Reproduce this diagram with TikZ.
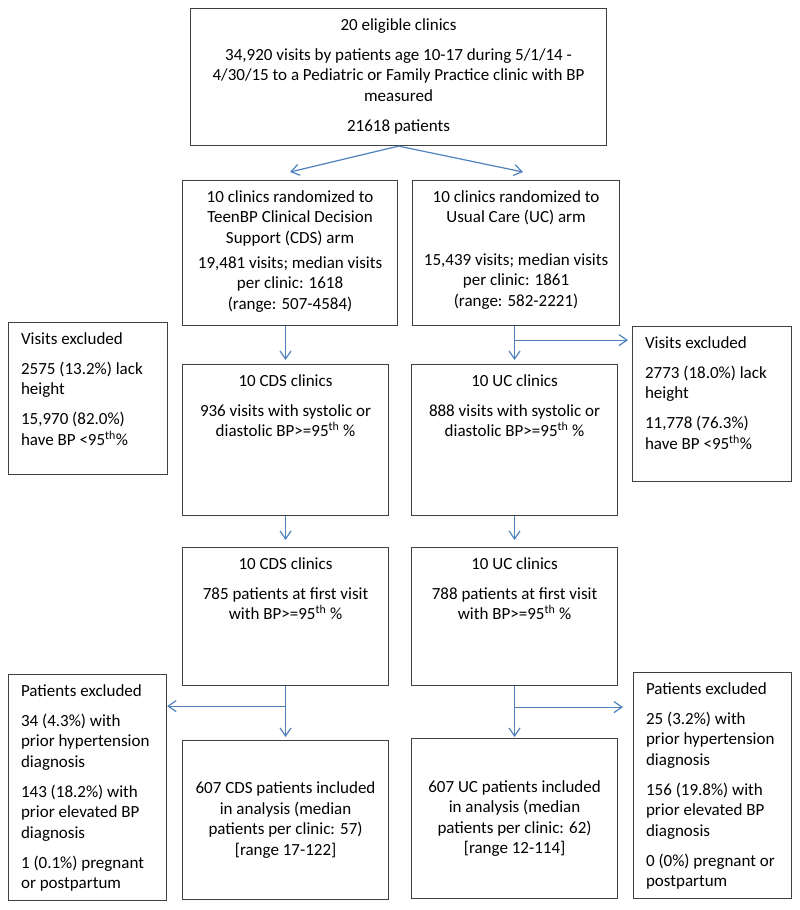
\documentclass[tikz,border=0pt]{standalone}
\usepackage{fontspec}
\setmainfont{Carlito}
\usetikzlibrary{arrows.meta}
\definecolor{arrblue}{RGB}{79,129,189}
\definecolor{boxgray}{RGB}{64,64,64}
\newcommand\ctext[3]{\parbox[c][#2][t]{#1}{\centering\vspace*{7.5pt}\strut#3}}
\newcommand\ltext[3]{\hspace*{12.5pt}\parbox[c][#2][t]{\dimexpr#1-12.5pt\relax}{\raggedright\vspace*{7.5pt}\strut#3}}
\newcommand\mtext[3]{\parbox[c][#2][c]{#1}{\centering#3}}
\newcommand\thsup{\textsuperscript{th}}
\tikzset{
  box/.style={draw=boxgray, line width=1.1pt, inner sep=0pt, anchor=north west,
    font=\fontsize{17}{20.5}\selectfont},
  arr/.style={draw=arrblue, line width=1.2pt, -{Straight Barb[length=8pt,width=11pt,line width=1.2pt]}}
}
\begin{document}
\begin{tikzpicture}[x=1pt,y=1pt]
\useasboundingbox (0,0) rectangle (800,-910);
\node[box] (top) at (190,-8) {\ctext{416pt}{137pt}{20 eligible clinics\\[9.5pt]
34,920 visits by patients age 10-17 during 5/1/14 -\\
4/30/15 to a Pediatric or Family Practice clinic with BP\\
measured\\[9.5pt]
21618 patients}};
\node[box] (cdsarm) at (182,-180) {\ctext{215pt}{145pt}{10 clinics randomized to\\
TeenBP Clinical Decision\\
Support (CDS) arm\\[4.5pt]
19,481 visits; median visits\\
per clinic: 1618\\
(range: 507-4584)}};
\node[box] (ucarm) at (412,-180) {\ctext{207pt}{145pt}{10 clinics randomized to\\
Usual Care (UC) arm\\[22pt]
15,439 visits; median visits\\
per clinic: 1861\\
(range: 582-2221)}};
\node[box] (lex) at (8,-322) {\ltext{159pt}{152pt}{Visits excluded\\[9.5pt]
2575 (13.2\%) lack\\
height\\[9.5pt]
15,970 (82.0\%)\\
have BP <95\thsup\%}};
\node[box] (cdscl) at (182,-364) {\ctext{206pt}{151pt}{10 CDS clinics\\[9.5pt]
936 visits with systolic or\\
diastolic BP>=95\thsup{} \%}};
\node[box] (uccl) at (411,-364) {\ctext{206pt}{151pt}{10 UC clinics\\[9.5pt]
888 visits with systolic or\\
diastolic BP>=95\thsup{} \%}};
\node[box] (rex) at (632,-326) {\ltext{159pt}{155pt}{Visits excluded\\[9.5pt]
2773 (18.0\%) lack\\
height\\[9.5pt]
11,778 (76.3\%)\\
have BP <95\thsup\%}};
\node[box] (cdspt) at (182,-547) {\ctext{206pt}{138pt}{10 CDS clinics\\[9.5pt]
785 patients at first visit\\
with BP>=95\thsup{} \%}};
\node[box] (ucpt) at (411,-547) {\ctext{206pt}{138pt}{10 UC clinics\\[9.5pt]
788 patients at first visit\\
with BP>=95\thsup{} \%}};
\node[box] (lpex) at (8,-674) {\ltext{158pt}{226pt}{Patients excluded\\[9.5pt]
34 (4.3\%) with\\
prior hypertension\\
diagnosis\\[9.5pt]
143 (18.2\%) with\\
prior elevated BP\\
diagnosis\\[9.5pt]
1 (0.1\%) pregnant\\
or postpartum}};
\node[box] (cdsfin) at (182,-740) {\mtext{206pt}{159pt}{607 CDS patients included\\
in analysis (median\\
patients per clinic: 57)\\
{[}range 17-122]}};
\node[box] (ucfin) at (411,-738) {\mtext{206pt}{160pt}{607 UC patients included\\
in analysis (median\\
patients per clinic: 62)\\
{[}range 12-114]}};
\node[box] (rpex) at (633,-672) {\ltext{158pt}{226pt}{Patients excluded\\[9.5pt]
25 (3.2\%) with\\
prior hypertension\\
diagnosis\\[9.5pt]
156 (19.8\%) with\\
prior elevated BP\\
diagnosis\\[9.5pt]
0 (0\%) pregnant or\\
postpartum}};
% connectors
\draw[arr] (top.south) -- ([yshift=8pt]cdsarm.north);
\draw[arr] (top.south) -- ([xshift=7pt,yshift=8pt]ucarm.north);
\draw[arr] (cdscl.north |- cdsarm.south) -- ([yshift=4pt]cdscl.north);
\draw[arr] (uccl.north |- ucarm.south) -- ([yshift=4pt]uccl.north);
\coordinate (ucbr) at ([yshift=-14pt]ucarm.south -| uccl.north);
\draw[arr] (ucbr) -- ([xshift=-4pt]rex.west |- ucbr);
\draw[arr] (cdspt.north |- cdscl.south) -- ([yshift=7pt]cdspt.north);
\draw[arr] (ucpt.north |- uccl.south) -- ([yshift=7pt]ucpt.north);
\draw[arr] (cdsfin.north |- cdspt.south) -- ([yshift=3pt]cdsfin.north);
\coordinate (cdsbr) at ([yshift=-20pt]cdspt.south);
\draw[arr] (cdsbr) -- (lpex.east |- cdsbr);
\draw[arr] (ucfin.north |- ucpt.south) -- ([yshift=1pt]ucfin.north);
\coordinate (ucbr2) at ([yshift=-21pt]ucpt.south);
\draw[arr] (ucbr2) -- ([xshift=-10pt]rpex.west |- ucbr2);
\end{tikzpicture}
\end{document}
